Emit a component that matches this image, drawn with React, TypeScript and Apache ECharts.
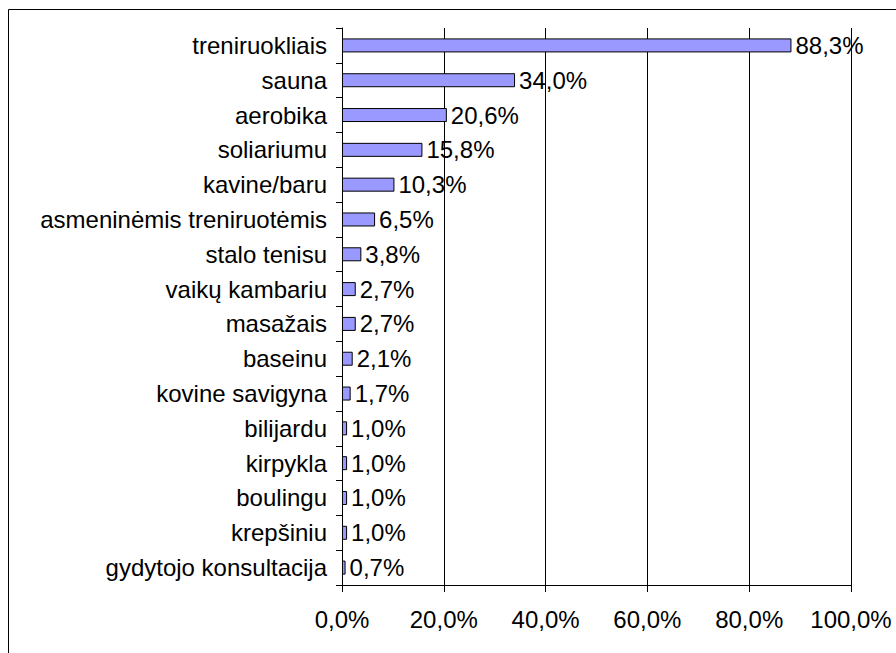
import React, { useEffect, useRef } from "react";
import * as echarts from "echarts";

const categories = [
  "treniruokliais",
  "sauna",
  "aerobika",
  "soliariumu",
  "kavine/baru",
  "asmeninėmis treniruotėmis",
  "stalo tenisu",
  "vaikų kambariu",
  "masažais",
  "baseinu",
  "kovine savigyna",
  "bilijardu",
  "kirpykla",
  "boulingu",
  "krepšiniu",
  "gydytojo konsultacija",
];
const values = [88.3, 34.0, 20.6, 15.8, 10.3, 6.5, 3.8, 2.7, 2.7, 2.1, 1.7, 1.0, 1.0, 1.0, 1.0, 0.7];
const xTicks = [0, 20, 40, 60, 80, 100];

const fmt = (v: number) => v.toFixed(1).replace(".", ",") + "%";
const FONT = "'Liberation Sans', Arial, sans-serif";
const FS = 24;

export default function App() {
  const ref = useRef<HTMLDivElement>(null);
  useEffect(() => {
    if (!ref.current) return;
    const chart = echarts.init(ref.current, null, { renderer: "svg" });
    chart.setOption({
      animation: false,
      backgroundColor: "#ffffff",
      grid: { left: 342, right: 45, top: 28, bottom: 68, containLabel: false },
      graphic: [
        { type: "line", shape: { x1: 8.5, y1: 9.5, x2: 896, y2: 9.5 }, style: { stroke: "#000", lineWidth: 1 } },
        { type: "line", shape: { x1: 8.5, y1: 9.5, x2: 8.5, y2: 653 }, style: { stroke: "#000", lineWidth: 1 } },
      ],
      xAxis: {
        type: "value",
        min: xTicks[0],
        max: xTicks[xTicks.length - 1],
        interval: 20,
        axisLine: { show: true, lineStyle: { color: "#000", width: 1 } },
        axisTick: { show: true, length: 7, lineStyle: { color: "#000" } },
        splitLine: { show: true, lineStyle: { color: "#000", width: 1 } },
        axisLabel: {
          color: "#000",
          fontFamily: FONT,
          fontSize: FS,
          margin: 22,
          formatter: (v: number) => fmt(v),
        },
      },
      yAxis: {
        type: "category",
        data: categories,
        inverse: true,
        axisLine: { show: true, lineStyle: { color: "#000", width: 1 } },
        axisTick: { show: true, length: 6, lineStyle: { color: "#000" } },
        axisLabel: { color: "#000", fontFamily: FONT, fontSize: FS, margin: 15 },
        splitLine: { show: false },
      },
      series: [
        {
          type: "bar",
          data: values,
          barWidth: 14,
          itemStyle: { color: "#9999ff", borderColor: "#000", borderWidth: 1 },
          label: {
            show: true,
            position: "right",
            distance: 4,
            color: "#000",
            fontFamily: FONT,
            fontSize: FS,
            formatter: (p: any) => fmt(p.value),
          },
        },
      ],
    });
    return () => chart.dispose();
  }, []);
  return (
    <div
      ref={ref}
      style={{ position: "absolute", left: 0, top: 0, width: 896, height: 653 }}
    />
  );
}
